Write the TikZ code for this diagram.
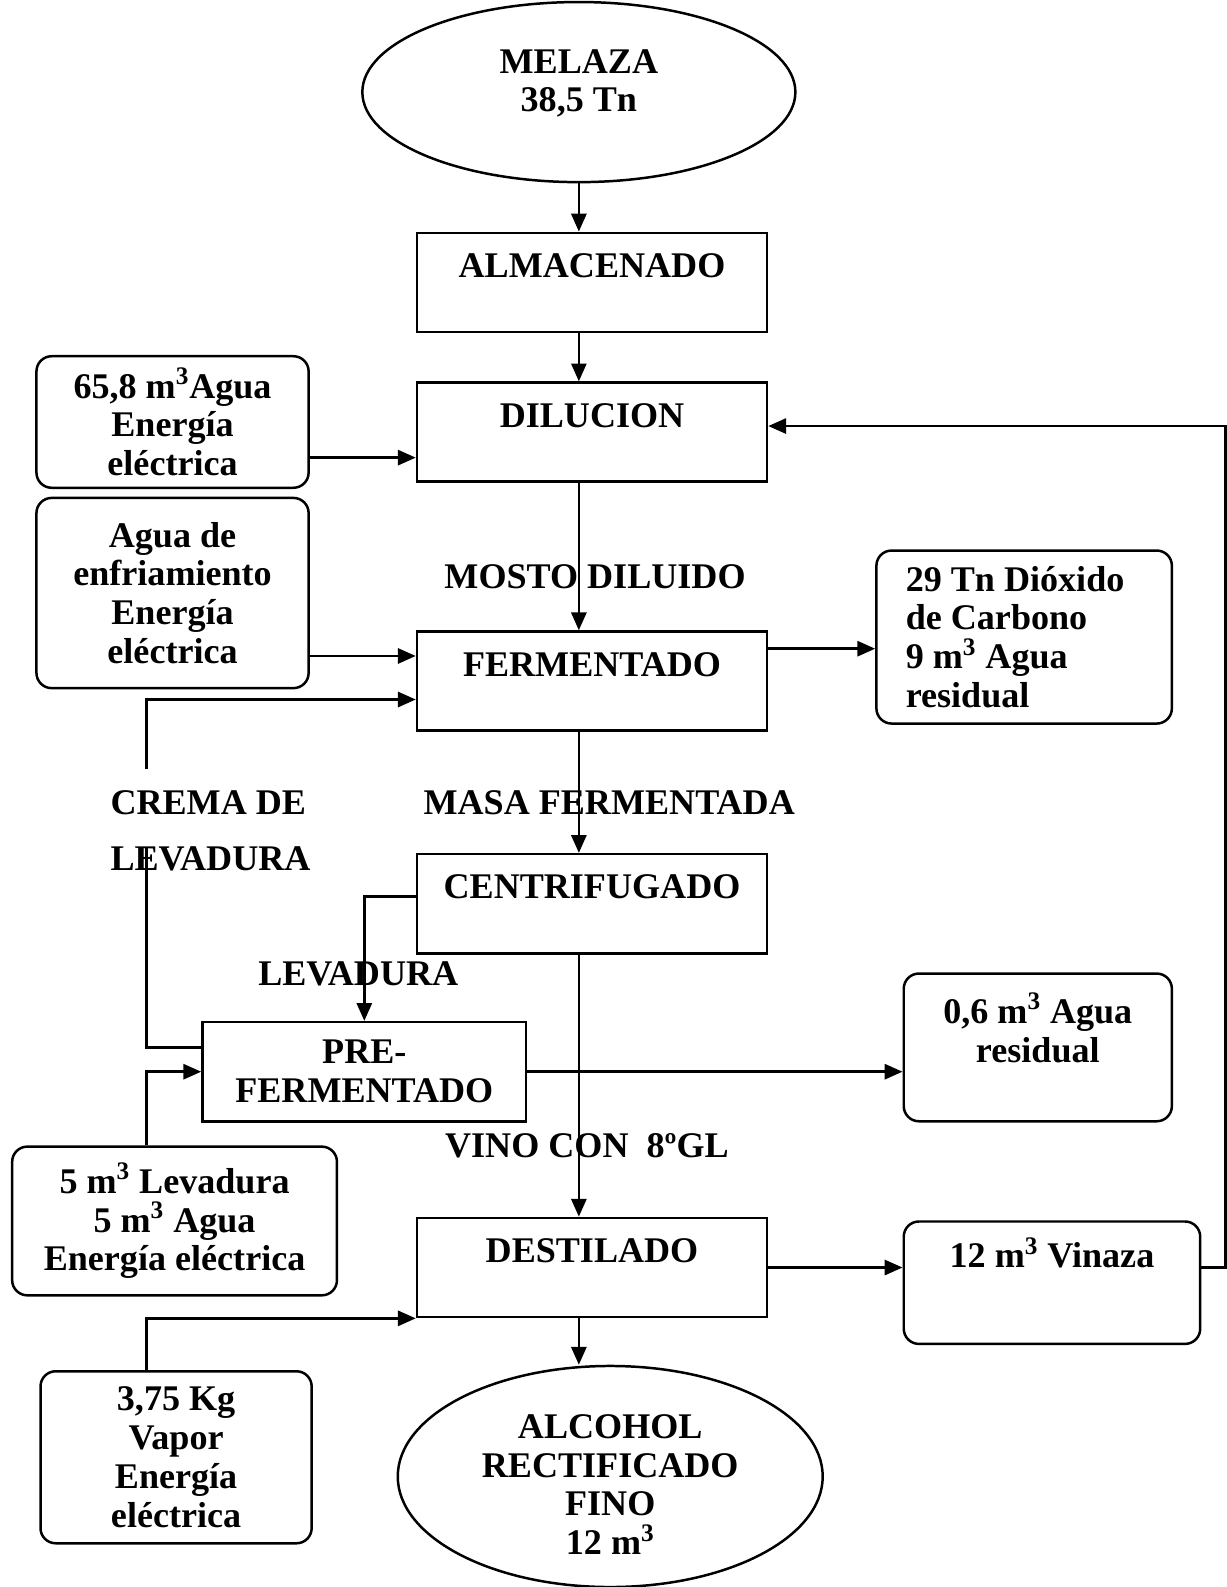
\documentclass[tikz,border=0pt]{standalone}
\usepackage{fontspec}
\setmainfont{Liberation Serif}
\usetikzlibrary{arrows.meta, shapes.geometric}

\newcommand{\boxfont}{\fontsize{20.3}{21.8}\selectfont\bfseries}
\newcommand{\cub}{\textsuperscript{3}}

\begin{document}
\begin{tikzpicture}[> = {Triangle[length = 10pt, width = 8.5pt]}, x = 0.02cm, y = -0.02cm, line width = 1.4pt,
	box/.style = {draw, align = center, font = \boxfont},
	proc/.style = {box, minimum width = 6.92cm, inner ysep = 0.2cm, text height = 0.68cm, text depth = 0.88cm},
	stock/.style = {box, rounded corners = 0.3cm},
	term/.style = {box, ellipse, inner sep = 0pt},
	flowlabel/.style = {font = \boxfont, inner sep = 0pt}]

\useasboundingbox (0, 0) rectangle (1211.5, 1568.2);

% Guide lines

\coordinate (axis) at (572, 0);
\coordinate (bus) at (145, 0);
\coordinate (cremaA) at (145, 760);
\coordinate (cremaB) at (145, 838);

% Main process

\node [term, minimum width = 8.56cm, minimum height = 3.56cm, text depth = 0.45cm] (melaza) at (572, 91) {MELAZA\\38,5 Tn};
\node [proc] (alm) at (585, 279) {ALMACENADO};
\node [proc] (dil) at (585, 427) {DILUCION};
\node [proc] (ferm) at (585, 673) {FERMENTADO};
\node [proc] (centr) at (585, 893) {CENTRIFUGADO};
\node [box, minimum width = 6.4cm, minimum height = 1.96cm] (pre) at (360, 1059) {PRE-\\FERMENTADO};
\node [proc] (dest) at (585, 1252.5) {DESTILADO};
\node [term, minimum width = 8.4cm, minimum height = 4.3cm, text height = 3.09cm] (alcohol) at (603, 1459) {ALCOHOL\\RECTIFICADO\\FINO\\12 m\cub};

% Inputs

\node [stock, minimum width = 5.38cm, minimum height = 2.6cm] (agua) at (170.5, 417) {65,8 m\cub Agua\\Energía\\eléctrica};
\node [stock, minimum width = 5.38cm, minimum height = 3.76cm] (enfr) at (170.5, 586) {Agua de\\enfriamiento\\Energía\\eléctrica};
\node [stock, minimum width = 6.42cm, minimum height = 2.94cm] (lev5) at (172.5, 1206.5) {5 m\cub{} Levadura\\5 m\cub{} Agua\\Energía eléctrica};
\node [stock, minimum width = 5.36cm, minimum height = 3.4cm] (vapor) at (174, 1440) {3,75 Kg\\Vapor\\Energía\\eléctrica};

% Outputs

\node [stock, align = flush left, text width = 4.68cm, minimum width = 5.84cm, minimum height = 3.42cm] (co2) at (1012, 629.5) {29 Tn Dióxido\\de Carbono\\9 m\cub{} Agua\\residual};
\node [stock, minimum width = 5.3cm, minimum height = 2.92cm, text depth = 0.78cm] (resid) at (1025.5, 1035) {0,6 m\cub{} Agua\\residual};
\node [stock, minimum width = 5.86cm, minimum height = 2.42cm, text depth = 1.2cm] (vinaza) at (1039.5, 1267.5) {12 m\cub{} Vinaza};

% Stream labels

\node [flowlabel] (mosto) at (588, 570) {MOSTO DILUIDO};
\node [flowlabel] (masa) at (602, 793) {MASA FERMENTADA};
\node [flowlabel] (levadura) at (354, 962) {LEVADURA};
\node [flowlabel] (vino) at (580, 1132) {VINO CON \ 8ºGL};
\node [flowlabel, anchor = west, align = left] (crema) at (108, 821) {CREMA DE\\[10pt]LEVADURA};

% Main flow

\draw [->] (melaza.south) -- (alm.north -| axis);
\draw [->] (alm.south -| axis) -- (dil.north -| axis);
\draw [->] (dil.south -| axis) -- (ferm.north -| axis);
\draw [->] (ferm.south -| axis) -- (centr.north -| axis);
\draw [->] (centr.south -| axis) -- (dest.north -| axis);
\draw [->] (dest.south -| axis) -- (alcohol.north -| axis);

% Side streams in

\draw [->] ([yshift = 0.62cm]agua.south east) -- ([yshift = 0.62cm]agua.south east -| dil.west);
\draw [->] ([yshift = 0.66cm]enfr.south east) -- ([yshift = 0.66cm]enfr.south east -| ferm.west);
\draw [->] (cremaA) |- ([yshift = 0.64cm]ferm.south west);
\draw (cremaB) |- ([yshift = 0.48cm]pre.west);
\draw [->] ([yshift = 0.14cm]centr.west) -| (pre.north);
\draw [->] (lev5.north -| bus) |- (pre.west);
\draw [->] (vapor.north -| bus) |- (dest.south west);

% Side streams out

\draw [->] ([yshift = 0.64cm]ferm.east) -- ([yshift = 0.64cm]ferm.east -| co2.west);
\draw [->] (pre.east) -- (pre.east -| resid.west);
\draw [->] (dest.east) -- (dest.east -| vinaza.west);
\draw [->] (dest.east -| vinaza.east) -- ++(24, 0) |- ([yshift = 0.12cm]dil.east);

\end{tikzpicture}
\end{document}
